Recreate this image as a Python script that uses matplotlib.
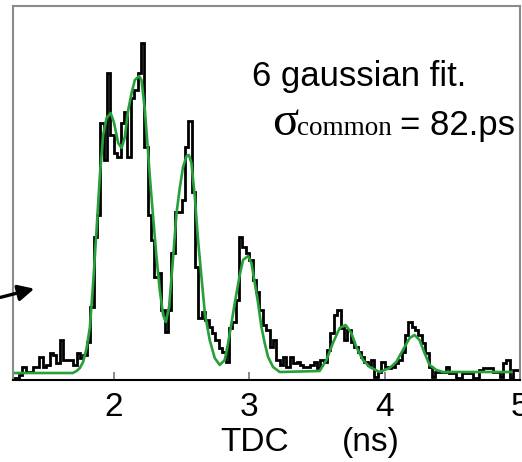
import matplotlib
matplotlib.use("Agg")
import matplotlib.pyplot as plt
import numpy as np

plt.rcParams['font.family'] = ['Liberation Sans', 'DejaVu Sans']

# TDC histogram, 25 ps bins starting at 1.25 ns (counts, arbitrary units)
bin_start = 1.25
bin_width = 0.025
counts = [
    2, 2, 5, 13, 8, 8, 13, 13, 23, 13,
    15, 27, 25, 17, 40, 20, 20, 20, 15, 27,
    22, 25, 38, 73, 143, 165, 257, 220, 307, 245,
    227, 223, 257, 268, 223, 282, 290, 307, 337, 233,
    165, 140, 103, 107, 70, 48, 70, 127, 168, 168,
    180, 233, 259, 188, 113, 62, 68, 60, 53, 47,
    40, 32, 28, 18, 52, 58, 80, 143, 133, 127,
    120, 100, 88, 70, 55, 50, 33, 40, 20, 15,
    23, 13, 23, 17, 18, 15, 13, 13, 15, 18,
    12, 20, 18, 30, 47, 65, 70, 52, 40, 50,
    38, 33, 28, 23, 18, 15, 20, 3, 8, 18,
    13, 12, 13, 17, 20, 28, 45, 58, 53, 50,
    45, 37, 27, 13, 3, 8, 8, 8, 13, 7,
    7, 2, 2, 7, 7, 7, 2, 2, 10, 12,
    12, 12, 8, 8, 3, 17, 20, 2, 10, 10,
]

# green 6-gaussian fit curve
fit_x = [1.255, 1.697, 1.725, 1.749, 1.773, 1.799, 1.823, 1.847, 1.872, 1.897,
         1.921, 1.946, 1.976, 2.000, 2.032, 2.057, 2.081, 2.106, 2.131, 2.155,
         2.187, 2.204, 2.229, 2.246, 2.266, 2.290, 2.315, 2.339, 2.364, 2.384,
         2.408, 2.438, 2.463, 2.487, 2.511, 2.537, 2.554, 2.573, 2.598, 2.622,
         2.647, 2.672, 2.708, 2.745, 2.782, 2.819, 2.844, 2.869, 2.893, 2.930,
         2.954, 2.991, 3.016, 3.041, 3.065, 3.090, 3.114, 3.139, 3.176, 3.225,
         3.520, 3.570, 3.618, 3.668, 3.712, 3.754, 3.791, 3.840, 3.889, 3.963,
         4.037, 4.086, 4.135, 4.185, 4.221, 4.258, 4.295, 4.332, 4.382, 4.430,
         4.937]
fit_y = [7, 7, 9, 12, 18, 32, 53, 97, 150, 205,
         245, 262, 267, 258, 237, 232, 243, 270, 287, 300,
         304, 300, 270, 240, 203, 163, 123, 90, 65, 58,
         73, 123, 167, 192, 213, 224, 225, 217, 183, 140,
         103, 67, 40, 22, 15, 20, 37, 57, 77, 105,
         120, 124, 117, 97, 77, 53, 37, 23, 13, 8,
         9, 20, 37, 52, 55, 47, 33, 20, 13, 8,
         12, 18, 30, 42, 45, 40, 27, 15, 10, 8,
         8]

xticks = [2, 3, 4, 5]

W, H = 522, 462
fig = plt.figure(figsize=(W / 100, H / 100), dpi=100)
ax = fig.add_axes([13 / W, 82 / H, 507 / W, 374 / H])

edges = bin_start + bin_width * np.arange(len(counts) + 1)
ax.stairs(counts, edges, color='black', lw=2.0, baseline=None)
ax.plot(fit_x, fit_y, color='#27a03a', lw=1.9, solid_joinstyle='round')

ax.set_xlim(1.255, 5.0)
ax.set_ylim(0, 374)
ax.set_xticks(xticks)
ax.set_xticklabels([str(t) for t in xticks])
ax.set_yticks([])
ax.tick_params(axis='x', direction='in', length=6, width=1.2, color='#777777',
               labelsize=24, pad=9)
for side in ['left', 'top', 'right']:
    ax.spines[side].set_color('#8a8a8a')
    ax.spines[side].set_linewidth(1.5)
ax.spines['bottom'].set_color('black')
ax.spines['bottom'].set_linewidth(1.5)


def fx(px):
    return px / W


def fy(py):
    return 1 - py / H


fig.text(fx(252), fy(86), "6 gaussian fit.", fontsize=25, va='baseline')
fig.text(fx(272), fy(135), "\u03c3", fontsize=35, va='baseline',
         family=['Liberation Serif', 'DejaVu Serif'])
fig.text(fx(297), fy(135), "common", fontsize=19.5, va='baseline',
         family=['Liberation Serif', 'DejaVu Serif'])
fig.text(fx(400), fy(135), "= 82.ps", fontsize=25, va='baseline')

fig.text(fx(220), fy(451), "TDC", fontsize=24, va='baseline')
fig.text(fx(342), fy(451), "(ns)", fontsize=24, va='baseline')

ax.annotate("", xy=(fx(37), fy(288)), xycoords='figure fraction',
            xytext=(fx(-2), fy(298)), textcoords='figure fraction',
            arrowprops=dict(arrowstyle='-|>', color='black', lw=2.4,
                            mutation_scale=24),
            annotation_clip=False)

fig.savefig("out.png", dpi=100)
